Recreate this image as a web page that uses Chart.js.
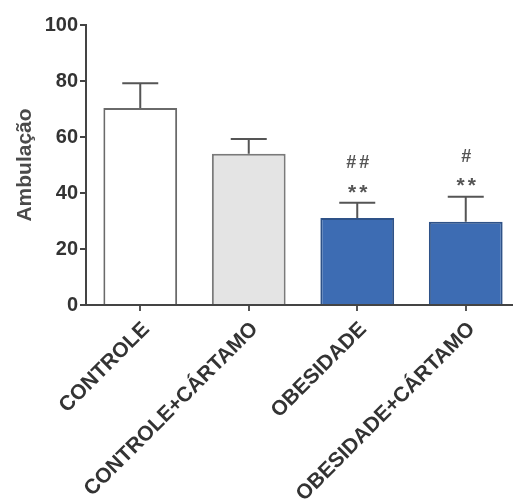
<!DOCTYPE html>
<html>
<head>
<meta charset="utf-8">
<script src="https://cdn.jsdelivr.net/npm/chart.js@4"></script>
<style>
  html, body { margin: 0; padding: 0; background: #fff; overflow: hidden; }
  #wrap { width: 520px; height: 504px; }
</style>
</head>
<body>
<div id="wrap"><canvas id="ambChart"></canvas></div>
<script>
// Groups and values
const groups = ['CONTROLE', 'CONTROLE+CÁRTAMO', 'OBESIDADE', 'OBESIDADE+CÁRTAMO'];
const ambulacao = [70.4, 54.0, 31.1, 29.7];
const erroPadrao = [8.8, 5.3, 5.4, 9.0];
const marcaAsterisco = ['', '', '**', '**'];
const marcaCerquilha = ['', '', '##', '#'];
const yTicks = [0, 20, 40, 60, 80, 100];

const fillColors = ['#ffffff', '#e4e4e4', '#3d6cb3', '#3d6cb3'];
const edgeColors = ['#6a6a6a', '#7a7a7a', '#2e5288', '#2e5288'];

// Draws the upper error bars and the significance marks
const errorBarPlugin = {
  id: 'errorBars',
  afterDatasetsDraw(chart) {
    const ctx = chart.ctx;
    const yScale = chart.scales.y;
    const meta = chart.getDatasetMeta(0);
    ctx.save();
    meta.data.forEach((bar, i) => {
      const top = yScale.getPixelForValue(ambulacao[i] + erroPadrao[i]);
      ctx.strokeStyle = '#555';
      ctx.lineWidth = 2;
      ctx.beginPath();
      ctx.moveTo(bar.x, bar.y);
      ctx.lineTo(bar.x, top);
      ctx.moveTo(bar.x - 18, top);
      ctx.lineTo(bar.x + 18, top);
      ctx.stroke();

      ctx.fillStyle = '#555';
      ctx.textAlign = 'center';
      ctx.textBaseline = 'middle';
      ctx.letterSpacing = '3px';
      ctx.font = 'bold 21px "Liberation Sans", Arial, sans-serif';
      if (marcaAsterisco[i]) ctx.fillText(marcaAsterisco[i], bar.x + 2, top - 10);
      ctx.font = 'bold 18px "Liberation Sans", Arial, sans-serif';
      if (marcaCerquilha[i]) ctx.fillText(marcaCerquilha[i], bar.x + 2, top - 40);
    });
    ctx.restore();
  }
};

const ctx = document.getElementById('ambChart').getContext('2d');
new Chart(ctx, {
  type: 'bar',
  data: {
    labels: groups,
    datasets: [{
      data: ambulacao,
      backgroundColor: fillColors,
      borderColor: edgeColors,
      borderWidth: 2,
      barPercentage: 0.68,
      categoryPercentage: 1
    }]
  },
  options: {
    responsive: true,
    maintainAspectRatio: false,
    animation: false,
    layout: { padding: { top: 25, right: 0, left: 0, bottom: 0 } },
    plugins: {
      legend: { display: false },
      tooltip: { enabled: false }
    },
    scales: {
      x: {
        offset: true,
        grid: {
          display: true,
          offset: false,
          drawOnChartArea: false,
          drawTicks: true,
          tickLength: 6,
          color: '#555',
          lineWidth: 2
        },
        border: { display: true, color: '#444', width: 2 },
        ticks: {
          minRotation: 45,
          maxRotation: 45,
          autoSkip: false,
          padding: 6,
          labelOffset: 6,
          color: '#333',
          font: { family: '"Liberation Sans", Arial, sans-serif', size: 21, weight: 'bold' }
        },
        afterFit(scale) { scale.height = 199; }
      },
      y: {
        min: 0,
        max: 100,
        afterBuildTicks(scale) { scale.ticks = yTicks.map(v => ({ value: v })); },
        grid: {
          display: true,
          drawOnChartArea: false,
          drawTicks: true,
          tickLength: 6,
          color: '#444',
          lineWidth: 2
        },
        border: { display: true, color: '#444', width: 2 },
        ticks: {
          padding: 2,
          color: '#333',
          font: { family: '"Liberation Sans", Arial, sans-serif', size: 20, weight: 'bold' }
        },
        title: {
          display: true,
          text: 'Ambulação',
          color: '#4a4a4a',
          padding: { top: 13, bottom: 0 },
          font: { family: '"Liberation Sans", Arial, sans-serif', size: 21, weight: 'bold' }
        },
        afterFit(scale) { scale.width = 86; }
      }
    }
  },
  plugins: [errorBarPlugin]
});
</script>
</body>
</html>
